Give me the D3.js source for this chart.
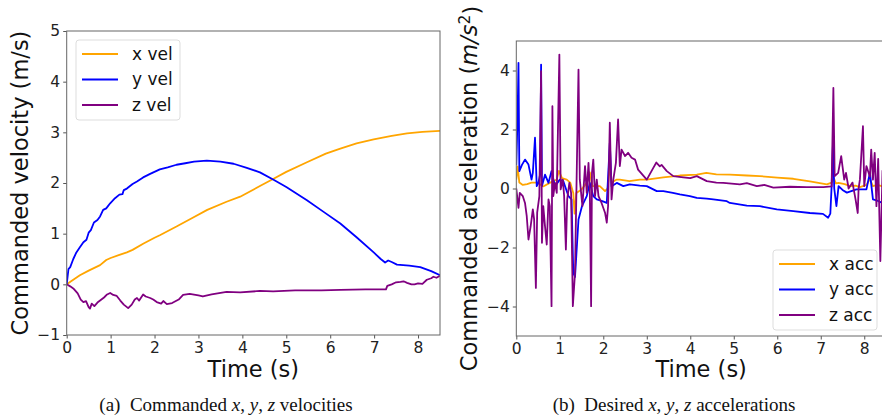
<!DOCTYPE html>
<html>
<head>
<meta charset="utf-8">
<script src="https://cdn.jsdelivr.net/npm/d3@7/dist/d3.min.js"></script>
<style>
	body { margin: 0; background: #fff; }
	svg { display: block; }
</style>
</head>
<body>
<svg id="chart" width="882" height="420"></svg>
<script>
// velocity series, [time (s), value (m/s)]
var xVel = [[0,0],[0.1,0.06],[0.3,0.18],[0.5,0.27],[0.76,0.38],[0.9,0.48],[1.0,0.52],[1.2,0.58],[1.37,0.63],[1.5,0.68],[1.74,0.8],[2.0,0.92],[2.12,0.97],[2.5,1.14],[2.88,1.32],[3.2,1.47],[3.64,1.63],[3.95,1.73],[4.4,1.94],[4.7,2.08],[5.0,2.22],[5.47,2.41],[5.9,2.58],[6.23,2.68],[6.6,2.78],[6.99,2.86],[7.4,2.93],[7.75,2.98],[8.1,3.01],[8.5,3.03]];
var yVel = [[0,0],[0.04,0.3],[0.08,0.34],[0.15,0.5],[0.22,0.63],[0.3,0.73],[0.38,0.83],[0.45,0.88],[0.5,1.02],[0.55,1.07],[0.62,1.22],[0.7,1.27],[0.76,1.34],[0.83,1.47],[0.9,1.5],[0.99,1.6],[1.1,1.7],[1.2,1.77],[1.27,1.78],[1.3,1.86],[1.37,1.89],[1.5,1.98],[1.6,2.03],[1.74,2.11],[1.9,2.18],[2.12,2.27],[2.3,2.31],[2.5,2.36],[2.7,2.39],[2.9,2.42],[3.19,2.44],[3.5,2.42],[3.8,2.38],[4.1,2.3],[4.4,2.21],[4.7,2.07],[5.0,1.92],[5.47,1.66],[5.85,1.43],[6.23,1.2],[6.6,0.93],[6.99,0.63],[7.15,0.5],[7.25,0.43],[7.32,0.47],[7.4,0.44],[7.52,0.39],[7.8,0.37],[8.05,0.34],[8.3,0.26],[8.5,0.18]];
var zVel = [[0,0],[0.08,-0.04],[0.15,-0.08],[0.25,-0.18],[0.32,-0.3],[0.38,-0.35],[0.44,-0.33],[0.5,-0.45],[0.53,-0.48],[0.57,-0.38],[0.63,-0.43],[0.7,-0.36],[0.76,-0.32],[0.85,-0.26],[0.92,-0.2],[0.99,-0.17],[1.06,-0.21],[1.14,-0.23],[1.22,-0.32],[1.3,-0.4],[1.4,-0.47],[1.48,-0.4],[1.55,-0.3],[1.6,-0.27],[1.65,-0.32],[1.74,-0.2],[1.8,-0.24],[1.9,-0.27],[1.97,-0.3],[2.05,-0.35],[2.15,-0.38],[2.2,-0.33],[2.28,-0.39],[2.4,-0.37],[2.55,-0.3],[2.65,-0.21],[2.8,-0.19],[3.0,-0.22],[3.1,-0.24],[3.3,-0.2],[3.64,-0.15],[3.95,-0.16],[4.4,-0.13],[4.7,-0.14],[5.2,-0.12],[5.8,-0.12],[6.23,-0.11],[6.8,-0.1],[7.27,-0.1],[7.3,-0.03],[7.4,0.0],[7.5,0.04],[7.6,0.05],[7.67,0.06],[7.75,0.03],[7.85,0.0],[7.92,0.0],[8.0,0.02],[8.1,0.01],[8.2,0.09],[8.3,0.12],[8.35,0.15],[8.42,0.13],[8.5,0.17]];

// acceleration series, [time (s), value (m/s^2)]
var xAcc = [[0,0.3],[0.03,0.75],[0.07,0.2],[0.15,0.12],[0.25,0.15],[0.35,0.2],[0.48,0.2],[0.62,0.07],[0.78,0.2],[0.93,0.3],[0.98,0.6],[1.05,0.35],[1.16,0.3],[1.24,0.2],[1.31,-0.15],[1.34,-0.85],[1.38,-0.15],[1.5,-0.03],[1.62,0.19],[1.69,0.55],[1.75,0.08],[1.92,0.08],[2.04,-0.09],[2.1,0.0],[2.15,0.76],[2.19,0.2],[2.3,0.3],[2.38,0.3],[2.6,0.25],[2.84,0.3],[3.0,0.3],[3.38,0.38],[3.76,0.44],[4.15,0.47],[4.37,0.53],[4.6,0.48],[4.91,0.47],[5.3,0.44],[5.6,0.42],[6.0,0.37],[6.37,0.33],[6.75,0.24],[7.14,0.14],[7.25,0.2],[7.3,0.35],[7.35,0.17],[7.41,0.19],[7.55,0.15],[7.68,0.08],[7.8,0.1],[7.9,0.05],[8.05,0.12],[8.13,0.32],[8.2,0.08],[8.3,0.12],[8.4,0.08],[8.5,0.05]];
var yAcc = [[0,0.8],[0.03,2.5],[0.05,4.26],[0.07,0.59],[0.13,0.8],[0.2,0.98],[0.28,0.81],[0.35,0.3],[0.38,0.53],[0.43,1.72],[0.47,0.08],[0.51,0.2],[0.55,0.5],[0.57,4.2],[0.59,0.08],[0.66,0.47],[0.74,0.19],[0.81,0.59],[0.89,0.08],[1.0,0.3],[1.08,0.25],[1.2,-0.26],[1.27,-0.37],[1.31,-2.86],[1.35,-3.0],[1.43,-1.05],[1.51,-0.6],[1.62,-0.26],[1.69,0.19],[1.77,-0.26],[1.85,-0.37],[1.96,-0.42],[2.08,-0.49],[2.15,1.55],[2.19,0.08],[2.31,0.19],[2.46,0.08],[2.61,0.14],[2.84,0.1],[3.0,0.08],[3.23,-0.09],[3.38,-0.09],[3.6,-0.15],[3.76,-0.2],[3.99,-0.26],[4.15,-0.32],[4.38,-0.34],[4.53,-0.37],[4.84,-0.43],[4.91,-0.49],[5.3,-0.58],[5.6,-0.6],[5.99,-0.71],[6.37,-0.77],[6.75,-0.83],[7.05,-0.86],[7.17,-0.99],[7.22,-0.85],[7.25,0.08],[7.28,1.5],[7.31,0.0],[7.36,-0.6],[7.41,0.08],[7.5,-0.05],[7.6,-0.14],[7.82,-0.03],[8.05,-0.03],[8.13,0.54],[8.2,-0.37],[8.28,-0.4],[8.4,-0.48],[8.5,-0.5]];
var zAcc = [[0,0],[0.05,-0.66],[0.08,-0.15],[0.15,-0.26],[0.2,-0.49],[0.24,-0.94],[0.28,-1.73],[0.33,-1.28],[0.38,-0.71],[0.41,-1.05],[0.45,-3.37],[0.48,-0.82],[0.53,-0.26],[0.57,3.98],[0.59,-1.84],[0.62,-0.6],[0.66,-1.28],[0.7,-1.9],[0.74,-0.37],[0.77,-0.6],[0.81,-3.99],[0.83,2.79],[0.85,-0.26],[0.89,0.19],[0.93,-0.15],[0.99,4.54],[1.02,-0.03],[1.07,0.3],[1.1,-0.26],[1.14,-2.07],[1.17,-0.37],[1.22,0.19],[1.26,-0.15],[1.3,-3.99],[1.35,-2.86],[1.43,4.03],[1.46,0.3],[1.52,-0.6],[1.58,0.76],[1.62,-0.15],[1.66,0.87],[1.69,-0.03],[1.72,-3.99],[1.74,0.53],[1.77,0.98],[1.81,-0.26],[1.85,0.3],[1.89,-0.26],[1.96,-0.49],[2.04,-0.82],[2.08,-1.16],[2.11,-0.6],[2.15,2.23],[2.19,-0.37],[2.23,0.3],[2.29,0.87],[2.34,2.34],[2.38,0.76],[2.42,1.32],[2.5,1.1],[2.57,1.21],[2.65,1.04],[2.73,0.98],[2.8,0.64],[3.0,0.3],[3.15,0.7],[3.22,0.88],[3.3,0.75],[3.34,0.8],[3.46,0.59],[3.61,0.42],[3.84,0.38],[4.0,0.35],[4.15,0.42],[4.38,0.25],[4.6,0.2],[4.76,0.19],[5.14,0.14],[5.3,0.18],[5.53,0.08],[5.7,0.12],[5.91,0.03],[6.29,0.06],[6.68,0.05],[7.06,0.05],[7.25,0.07],[7.29,3.41],[7.32,0.42],[7.4,0.53],[7.47,1.1],[7.5,0.75],[7.54,0.3],[7.58,0.53],[7.64,0.0],[7.73,0.2],[7.8,-0.37],[7.85,-0.83],[7.87,0.0],[7.9,0.3],[7.97,2.11],[8.0,0.08],[8.05,0.76],[8.13,0.4],[8.16,1.32],[8.2,0.3],[8.24,1.21],[8.28,-0.6],[8.32,1.0],[8.37,-2.46],[8.42,0.6],[8.5,0.8]];

var xTicks = [0, 1, 2, 3, 4, 5, 6, 7, 8];
var velTicks = [-1, 0, 1, 2, 3, 4, 5];
var accTicks = [-4, -2, 0, 2, 4];
var velNames = ["x vel", "y vel", "z vel"];
var accNames = ["x acc", "y acc", "z acc"];
var colors = ["#ffa500", "#0000ff", "#800080"];

var svg = d3.select("#chart");

function styleAxis(sel) {
	sel.select(".domain").remove();
	sel.selectAll(".tick line").attr("stroke", "#555");
	sel.selectAll(".tick text")
		.attr("fill", "#222")
		.style("font-family", "DejaVu Sans, sans-serif")
		.style("font-size", "15.5px");
}

function buildPanel(opts) {
	var x = d3.scaleLinear().domain([0, 8.5]).range([opts.left, opts.right]);
	var y = d3.scaleLinear().domain(opts.yDomain).range([opts.bottom, opts.top]);
	var g = svg.append("g");

	g.append("clipPath")
		.attr("id", opts.id + "-clip")
		.append("rect")
		.attr("x", opts.left)
		.attr("y", opts.top)
		.attr("width", opts.right - opts.left)
		.attr("height", opts.bottom - opts.top);

	var line = d3.line()
		.x(function(d) { return x(d[0]); })
		.y(function(d) { return y(d[1]); });

	g.append("g")
		.attr("clip-path", "url(#" + opts.id + "-clip)")
		.selectAll("path")
		.data(opts.series)
		.enter()
		.append("path")
		.attr("d", line)
		.attr("fill", "none")
		.attr("stroke", function(d, i) { return colors[i]; })
		.attr("stroke-width", 1.8)
		.attr("stroke-linejoin", "round");

	// axes
	g.append("g")
		.attr("transform", "translate(0," + opts.bottom + ")")
		.call(d3.axisBottom(x).tickValues(xTicks).tickSize(3.5).tickPadding(3).tickSizeOuter(0))
		.call(styleAxis);
	g.append("g")
		.attr("transform", "translate(" + opts.left + ",0)")
		.call(d3.axisLeft(y).tickValues(opts.yTicks).tickSize(3.5).tickPadding(3).tickSizeOuter(0)
			.tickFormat(function(d) { return d < 0 ? "\u2212" + Math.abs(d) : d; }))
		.call(styleAxis);

	// frame
	g.append("rect")
		.attr("x", opts.left)
		.attr("y", opts.top)
		.attr("width", opts.right - opts.left)
		.attr("height", opts.bottom - opts.top)
		.attr("fill", "none")
		.attr("stroke", "#666")
		.attr("stroke-width", 1);

	g.append("text")
		.attr("x", (opts.left + Math.min(opts.right, 882)) / 2 + opts.xLabelShift)
		.attr("y", 377)
		.attr("text-anchor", "middle")
		.style("font-family", "DejaVu Sans, sans-serif")
		.style("font-size", "22.5px")
		.attr("fill", "#111")
		.text("Time (s)");

	var yl = g.append("text")
		.attr("transform", "translate(" + opts.yLabelX + "," + ((opts.top + opts.bottom) / 2) + ") rotate(-90)")
		.attr("text-anchor", "middle")
		.style("font-family", "DejaVu Sans, sans-serif")
		.style("font-size", "22.5px")
		.attr("fill", "#111");
	opts.yLabel(yl);

	// legend
	var lg = g.append("g").attr("transform", "translate(" + opts.legend[0] + "," + opts.legend[1] + ")");
	lg.append("rect")
		.attr("width", 104)
		.attr("height", 80)
		.attr("rx", 3)
		.attr("fill", "#fff")
		.attr("fill-opacity", 0.8)
		.attr("stroke", "#ddd");
	var items = lg.selectAll("g.item")
		.data(opts.names)
		.enter()
		.append("g")
		.attr("class", "item")
		.attr("transform", function(d, i) { return "translate(0," + (14 + i * 25.5) + ")"; });
	items.append("line")
		.attr("x1", 6)
		.attr("x2", 42)
		.attr("stroke", function(d, i) { return colors[i]; })
		.attr("stroke-width", 1.8);
	items.append("text")
		.attr("x", 56)
		.attr("dy", "0.35em")
		.style("font-family", "DejaVu Sans, sans-serif")
		.style("font-size", "17px")
		.attr("fill", "#111")
		.text(function(d) { return d; });
}

buildPanel({
	id: "vel",
	left: 66.7, right: 440, top: 31, bottom: 335,
	yDomain: [-1, 5],
	yTicks: velTicks,
	series: [xVel, yVel, zVel],
	names: velNames,
	legend: [76, 40],
	yLabelX: 28,
	xLabelShift: 0,
	yLabel: function(t) { t.text("Commanded velocity (m/s)"); }
});

buildPanel({
	id: "acc",
	left: 516.3, right: 886, top: 41, bottom: 336,
	yDomain: [-5, 5],
	yTicks: accTicks,
	series: [xAcc, yAcc, zAcc],
	names: accNames,
	legend: [773, 250],
	yLabelX: 477,
	xLabelShift: 2,
	yLabel: function(t) {
		t.append("tspan").text("Commanded acceleration (");
		t.append("tspan").style("font-style", "italic").text("m/s");
		t.append("tspan").attr("dy", "-0.45em").style("font-size", "15.5px").text("2");
		t.append("tspan").attr("dy", "0.45em").text(")");
	}
});

// captions
function caption(cx, label, rest) {
	var t = svg.append("text")
		.attr("x", cx)
		.attr("y", 411)
		.attr("text-anchor", "middle")
		.style("font-family", "Liberation Serif, serif")
		.style("font-size", "19px")
		.attr("fill", "#111")
		.attr("xml:space", "preserve");
	t.append("tspan").text(label + "  " + rest + " ");
	t.append("tspan").style("font-style", "italic").text("x");
	t.append("tspan").text(", ");
	t.append("tspan").style("font-style", "italic").text("y");
	t.append("tspan").text(", ");
	t.append("tspan").style("font-style", "italic").text("z");
	return t;
}
caption(226, "(a)", "Commanded").append("tspan").text(" velocities");
caption(674, "(b)", "Desired").append("tspan").text(" accelerations");
</script>
</body>
</html>
